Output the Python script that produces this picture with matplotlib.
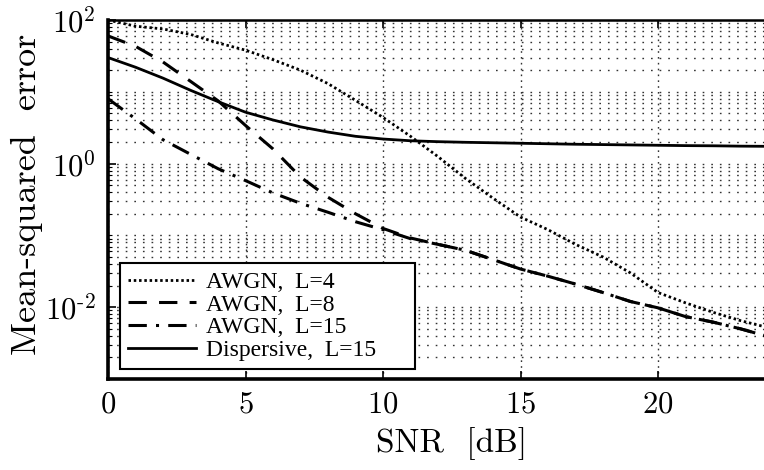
import numpy as np
import matplotlib
matplotlib.use("Agg")
import matplotlib.pyplot as plt
from matplotlib.ticker import FixedLocator, FixedFormatter, NullFormatter

# SNR grid [dB]
snr = list(range(0, 25))

# mean-squared error
mse_awgn_l4 = [100, 82, 75, 63, 48, 38, 28, 20, 13, 7.6, 4.4, 2.4, 1.25, 0.62,
               0.33, 0.18, 0.12, 0.075, 0.05, 0.03, 0.016, 0.0115, 0.0085, 0.0065, 0.0052]
mse_awgn_l8 = [60, 43, 26, 14, 7.5, 3.4, 1.6, 0.65, 0.34, 0.2, 0.125, 0.092, 0.075, 0.062,
               0.046, 0.034, 0.027, 0.021, 0.016, 0.012, 0.0098, 0.0074, 0.0062, 0.005, 0.0039]
mse_awgn_l15 = [8, 4.2, 2.15, 1.35, 0.85, 0.58, 0.39, 0.28, 0.21, 0.155, 0.12, 0.09, 0.075, 0.062,
                0.046, 0.034, 0.027, 0.021, 0.016, 0.012, 0.0098, 0.0074, 0.0062, 0.005, 0.0039]
mse_disp_l15 = [30, 22, 15.5, 10.5, 7.3, 5.2, 4.05, 3.25, 2.75, 2.4, 2.2, 2.08, 2.02, 1.98,
                1.95, 1.92, 1.89, 1.86, 1.84, 1.82, 1.80, 1.78, 1.77, 1.75, 1.74]

labels = ["AWGN,  L=4", "AWGN,  L=8", "AWGN,  L=15", "Dispersive,  L=15"]
x_ticks = [0, 5, 10, 15, 20]
y_ticks = [1e-2, 1e0, 1e2]
y_ticklabels = [r"$10^{\text{-}2}$", r"$10^{0}$", r"$10^{2}$"]

plt.rcParams["font.family"] = ["cmr10"]
plt.rcParams["mathtext.fontset"] = "cm"
plt.rcParams["axes.formatter.use_mathtext"] = True

fig = plt.figure(figsize=(7.64, 4.70), dpi=100)
# axes runs past the right edge, as in the cropped original
ax = fig.add_axes([108 / 764, 1 - 379 / 470, 687.5 / 764, 359 / 470])

ax.plot(snr, mse_awgn_l4, color="black", lw=2.0, linestyle=(0, (0.9, 1.0)), label=labels[0])
ax.plot(snr, mse_awgn_l8, color="black", lw=2.2, linestyle=(0, (6, 4)), label=labels[1])
ax.plot(snr, mse_awgn_l15, color="black", lw=2.2, linestyle=(0, (6, 3, 1, 3)), label=labels[2])
ax.plot(snr, mse_disp_l15, color="black", lw=2.0, linestyle="-", label=labels[3])

ax.set_yscale("log")
ax.set_xlim(0, 25)
ax.set_ylim(1e-3, 1e2)

ax.set_xticks(x_ticks)
ax.yaxis.set_major_locator(FixedLocator(y_ticks))
ax.yaxis.set_major_formatter(FixedFormatter(y_ticklabels))
minor = [m * 10.0 ** e for e in range(-3, 2) for m in range(1, 10) if not (m == 1 and e in (-2, 0))]
ax.yaxis.set_minor_locator(FixedLocator(minor))
ax.yaxis.set_minor_formatter(NullFormatter())

ax.grid(True, which="both", axis="y", color="#333333", linestyle=(0, (1.2, 5)), lw=1.0)
ax.grid(True, which="major", axis="x", color="#333333", linestyle=(0, (1.2, 3)), lw=1.0)

ax.tick_params(axis="both", which="major", direction="in", length=6, width=1.2,
               labelsize=22, top=True, pad=9)
ax.tick_params(axis="y", which="minor", direction="in", length=3, width=0.8)

for side, w in [("left", 2.6), ("bottom", 2.6), ("top", 1.8), ("right", 1.8)]:
    ax.spines[side].set_linewidth(w)

ax.set_xlabel("SNR  [dB]", fontsize=24, labelpad=6)
fig.text(27 / 764, 1 - 194 / 470, "Mean-squared  error", fontsize=26, rotation=90,
         ha="center", va="center")

leg = ax.legend(loc="upper left", bbox_to_anchor=(0.017, 0.02, (415 - 120) / 687.5, 0.303),
                mode="expand", borderaxespad=0,
                prop={"family": "Liberation Serif", "size": 17}, handlelength=2.9,
                handletextpad=0.4, labelspacing=0.05, borderpad=0.35,
                fancybox=False, framealpha=1, edgecolor="black")
leg.get_frame().set_linewidth(1.5)

fig.savefig("out.png", dpi=100)
